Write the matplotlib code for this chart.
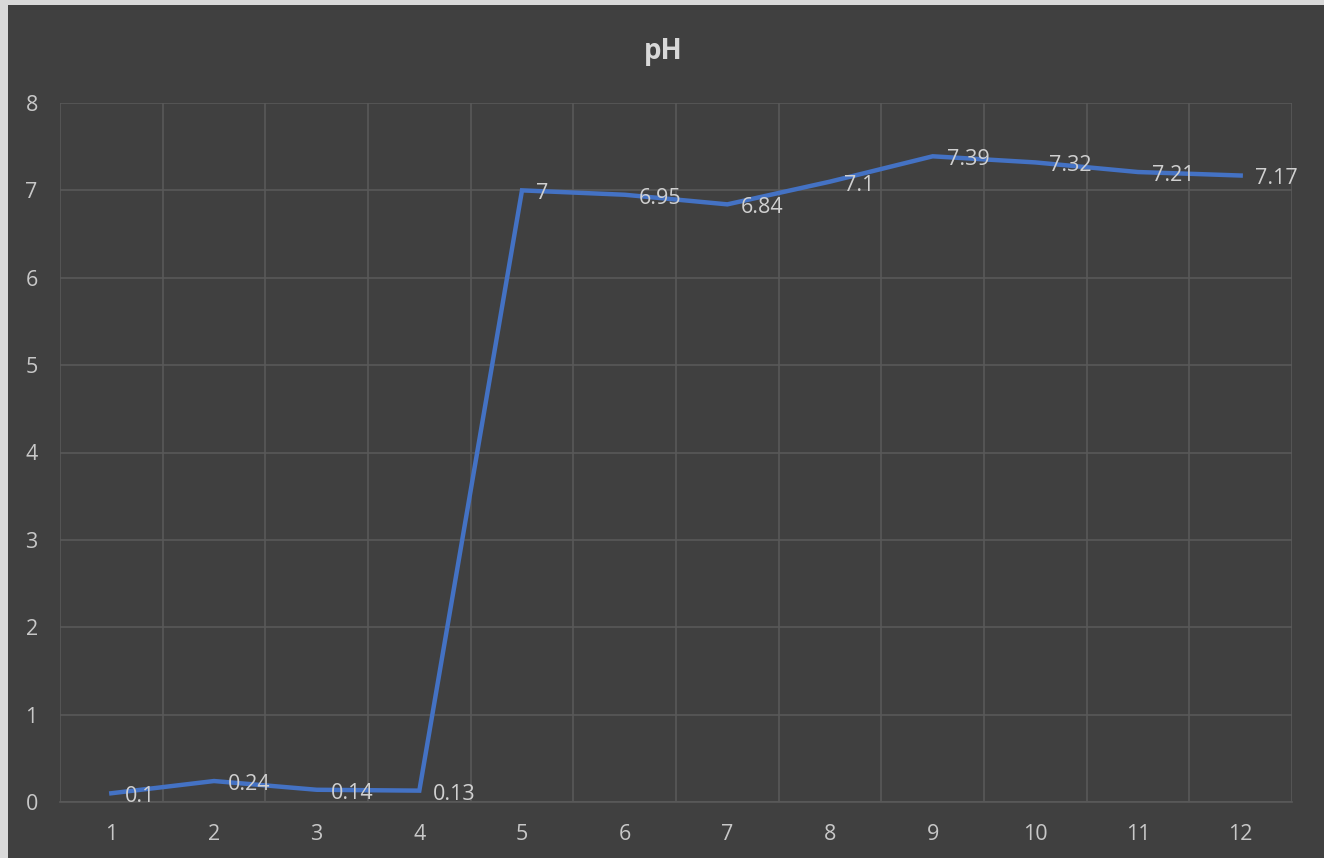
import matplotlib.pyplot as plt
from matplotlib.patches import Rectangle
import numpy as np

plt.rcParams['font.family'] = ['Open Sans', 'DejaVu Sans']

#... data
samples = [1, 2, 3, 4, 5, 6, 7, 8, 9, 10, 11, 12]
ph = [0.1, 0.24, 0.14, 0.13, 7, 6.95, 6.84, 7.1, 7.39, 7.32, 7.21, 7.17]
ph_labels = ['0.1', '0.24', '0.14', '0.13', '7', '6.95', '6.84', '7.1', '7.39', '7.32', '7.21', '7.17']

bg = '#404040'
txt = '#d0d0d0'
grid = '#595959'

#... figure with the light border on left/top
fig = plt.figure(figsize=(13.24, 8.58), dpi=100)
fig.patch.set_facecolor('#d9d9d9')
fig.patches.append(Rectangle((8/1324., 0), 1, 1 - 5/858., transform=fig.transFigure,
                             facecolor=bg, edgecolor='none', zorder=-5))

ax = fig.add_axes([60/1324., 1 - 802/858., 1232/1324., 699/858.])
ax.set_facecolor(bg)

x = np.arange(len(samples))
ax.plot(x, ph, color='#4472C4', lw=3.2, solid_joinstyle='miter', zorder=3)
for xi, yi, lab in zip(x, ph, ph_labels):
    ax.annotate(lab, (xi, yi), xytext=(10, -2.5), textcoords='offset points',
                ha='left', va='center', color=txt, fontsize=15.5, zorder=4)

ax.set_xlim(-0.5, len(samples) - 0.5)
ax.set_ylim(0, 8)
ax.set_yticks(range(0, 9))
ax.set_xticks(x)
ax.set_xticklabels([str(s) for s in samples])
#... gridlines between categories
ax.set_xticks(np.arange(-0.5, len(samples)), minor=True)
ax.grid(True, which='minor', axis='x', color=grid, lw=1.2)
ax.grid(True, which='major', axis='y', color=grid, lw=1.2)
ax.set_axisbelow(True)
ax.tick_params(which='both', length=0)
ax.tick_params(axis='y', pad=16, labelsize=15.5, labelcolor='#c8c8c8')
ax.tick_params(axis='x', pad=16, labelsize=15.5, labelcolor='#c8c8c8')
for s in ax.spines.values():
    s.set_visible(False)
ax.spines['bottom'].set_visible(True)
ax.spines['bottom'].set_color(grid)
ax.spines['bottom'].set_linewidth(1.2)

fig.text(663/1324., 1 - 52/858., 'pH', ha='center', va='center',
         fontsize=20, fontweight='bold', color='#d9d9d9')

fig.savefig('out.png', dpi=100, facecolor=fig.get_facecolor())
